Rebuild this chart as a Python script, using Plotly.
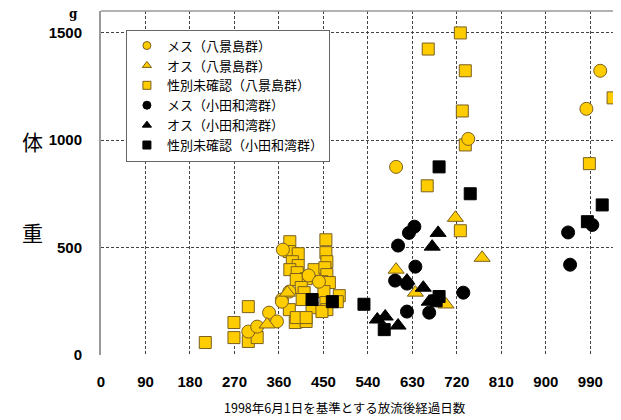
import plotly.graph_objects as go

# ---- data (days since 1998-06-01, body weight g) ----
hk_female_days = [298, 316, 340, 356, 366, 368, 381, 366, 420, 441, 597, 743, 982, 1010]
hk_female_w    = [109, 132, 197, 156, 258, 490, 295, 248, 370, 341, 875, 1005, 1145, 1322]

hk_male_days = [336, 377, 597, 636, 698, 717, 771]
hk_male_w    = [142, 290, 397, 290, 235, 638, 452]

hk_unk_days = [211, 269, 269, 298, 298, 316, 393, 415,
               382, 381, 399, 387, 399, 382, 431, 397, 415, 395, 405, 411, 407, 381, 427,
               455, 455, 457, 453, 457, 447, 462, 451, 482, 455, 457, 478, 395, 415, 447,
               660, 662, 727, 737, 731, 737, 727, 988, 1036]
hk_unk_w    = [58, 151, 81, 225, 63, 81, 151, 156,
               527, 481, 471, 434, 416, 397, 397, 383, 355, 351, 314, 290, 258, 211, 220,
               536, 476, 434, 406, 374, 341, 337, 295, 276, 244, 211, 248, 174, 174, 202,
               787, 1423, 1498, 1322, 1135, 977, 578, 890, 1196]

od_female_days = [595, 601, 619, 619, 623, 634, 636, 664, 733, 945, 949, 994]
od_female_w    = [346, 509, 332, 202, 568, 597, 411, 197, 290, 570, 420, 605]

od_male_days = [559, 575, 601, 619, 652, 664, 670, 682]
od_male_w    = [165, 179, 137, 346, 313, 248, 504, 568]

od_unk_days = [427, 468, 532, 573, 678, 684, 684, 747, 984, 1014]
od_unk_w    = [258, 248, 236, 118, 252, 272, 875, 750, 620, 698]

labels = ["メス（八景島群）", "オス（八景島群）", "性別未確認（八景島群）",
          "メス（小田和湾群）", "オス（小田和湾群）", "性別未確認（小田和湾群）"]

x_ticks = list(range(0, 1000, 90))
y_ticks = [0, 500, 1000, 1500]

YEL = "#FFCC00"
YEL_LINE = "#7a6020"

series = [
    (hk_female_days, hk_female_w, "circle", YEL, YEL_LINE, 13),
    (hk_male_days, hk_male_w, "triangle-up", YEL, YEL_LINE, 14),
    (hk_unk_days, hk_unk_w, "square", YEL, YEL_LINE, 12),
    (od_female_days, od_female_w, "circle", "black", "black", 13),
    (od_male_days, od_male_w, "triangle-up", "black", "black", 14),
    (od_unk_days, od_unk_w, "square", "black", "black", 12),
]

fig = go.Figure()
draw_order = [2, 0, 1, 3, 4, 5]
for i in draw_order:
    xs, ys, sym, col, lc, sz = series[i]
    fig.add_trace(go.Scatter(x=xs, y=ys, mode="markers", showlegend=False,
                             marker=dict(symbol=sym, color=col, size=sz,
                                         line=dict(color=lc, width=1))))
# legend entries (smaller symbols as in the original)
for i, (xs, ys, sym, col, lc, sz) in enumerate(series):
    fig.add_trace(go.Scatter(x=[None], y=[None], mode="markers", name=labels[i],
                             marker=dict(symbol=sym, color=col, size=8,
                                         line=dict(color=lc, width=1))))

grid = dict(showgrid=True, gridcolor="#444", gridwidth=1, griddash="3px,2px")
fig.update_xaxes(range=[0, 1050], tickvals=x_ticks, ticktext=[str(v) for v in x_ticks],
                 zeroline=False, showline=False, ticks="", ticklabelstandoff=16,
                 tickfont=dict(family="Liberation Sans", size=15, color="black", weight="bold"),
                 **grid)
fig.update_yaxes(range=[0, 1600], tickvals=y_ticks, zeroline=False,
                 showline=True, linecolor="#999", linewidth=2, ticks="", ticklabelstandoff=14,
                 tickfont=dict(family="Liberation Sans", size=15, color="black", weight="bold"),
                 **grid)

fig.add_shape(type="line", xref="paper", yref="paper", x0=0, x1=1, y0=1, y1=1,
              line=dict(color="#999", width=1.5))

fig.add_annotation(text="体", xref="paper", yref="paper", x=-0.156, y=0.622,
                   showarrow=False, font=dict(family="Noto Sans CJK JP", size=21, color="black"))
fig.add_annotation(text="重", xref="paper", yref="paper", x=-0.156, y=0.357,
                   showarrow=False, font=dict(family="Noto Sans CJK JP", size=21, color="black"))
fig.add_annotation(text="g", xref="paper", yref="paper", x=-0.065, y=0.99, yanchor="middle",
                   showarrow=False, font=dict(family="DejaVu Serif", size=12, color="black", weight="bold"))
fig.add_annotation(text="1998年6月1日を基準とする放流後経過日数", xref="paper", yref="paper",
                   x=0.47, y=-0.152, yanchor="middle", showarrow=False,
                   font=dict(family="Noto Sans CJK JP", size=12.5, color="black"))

fig.update_layout(
    width=613, height=412,
    margin=dict(l=93, r=1, t=3, b=65),
    paper_bgcolor="white", plot_bgcolor="white",
    legend=dict(x=0.048, y=0.946, xanchor="left", yanchor="top",
                bordercolor="#666", borderwidth=1, bgcolor="white",
                font=dict(family="Noto Sans CJK JP", size=13, color="black"),
                itemwidth=30, tracegroupgap=0),
)

fig.write_html("out.html")
